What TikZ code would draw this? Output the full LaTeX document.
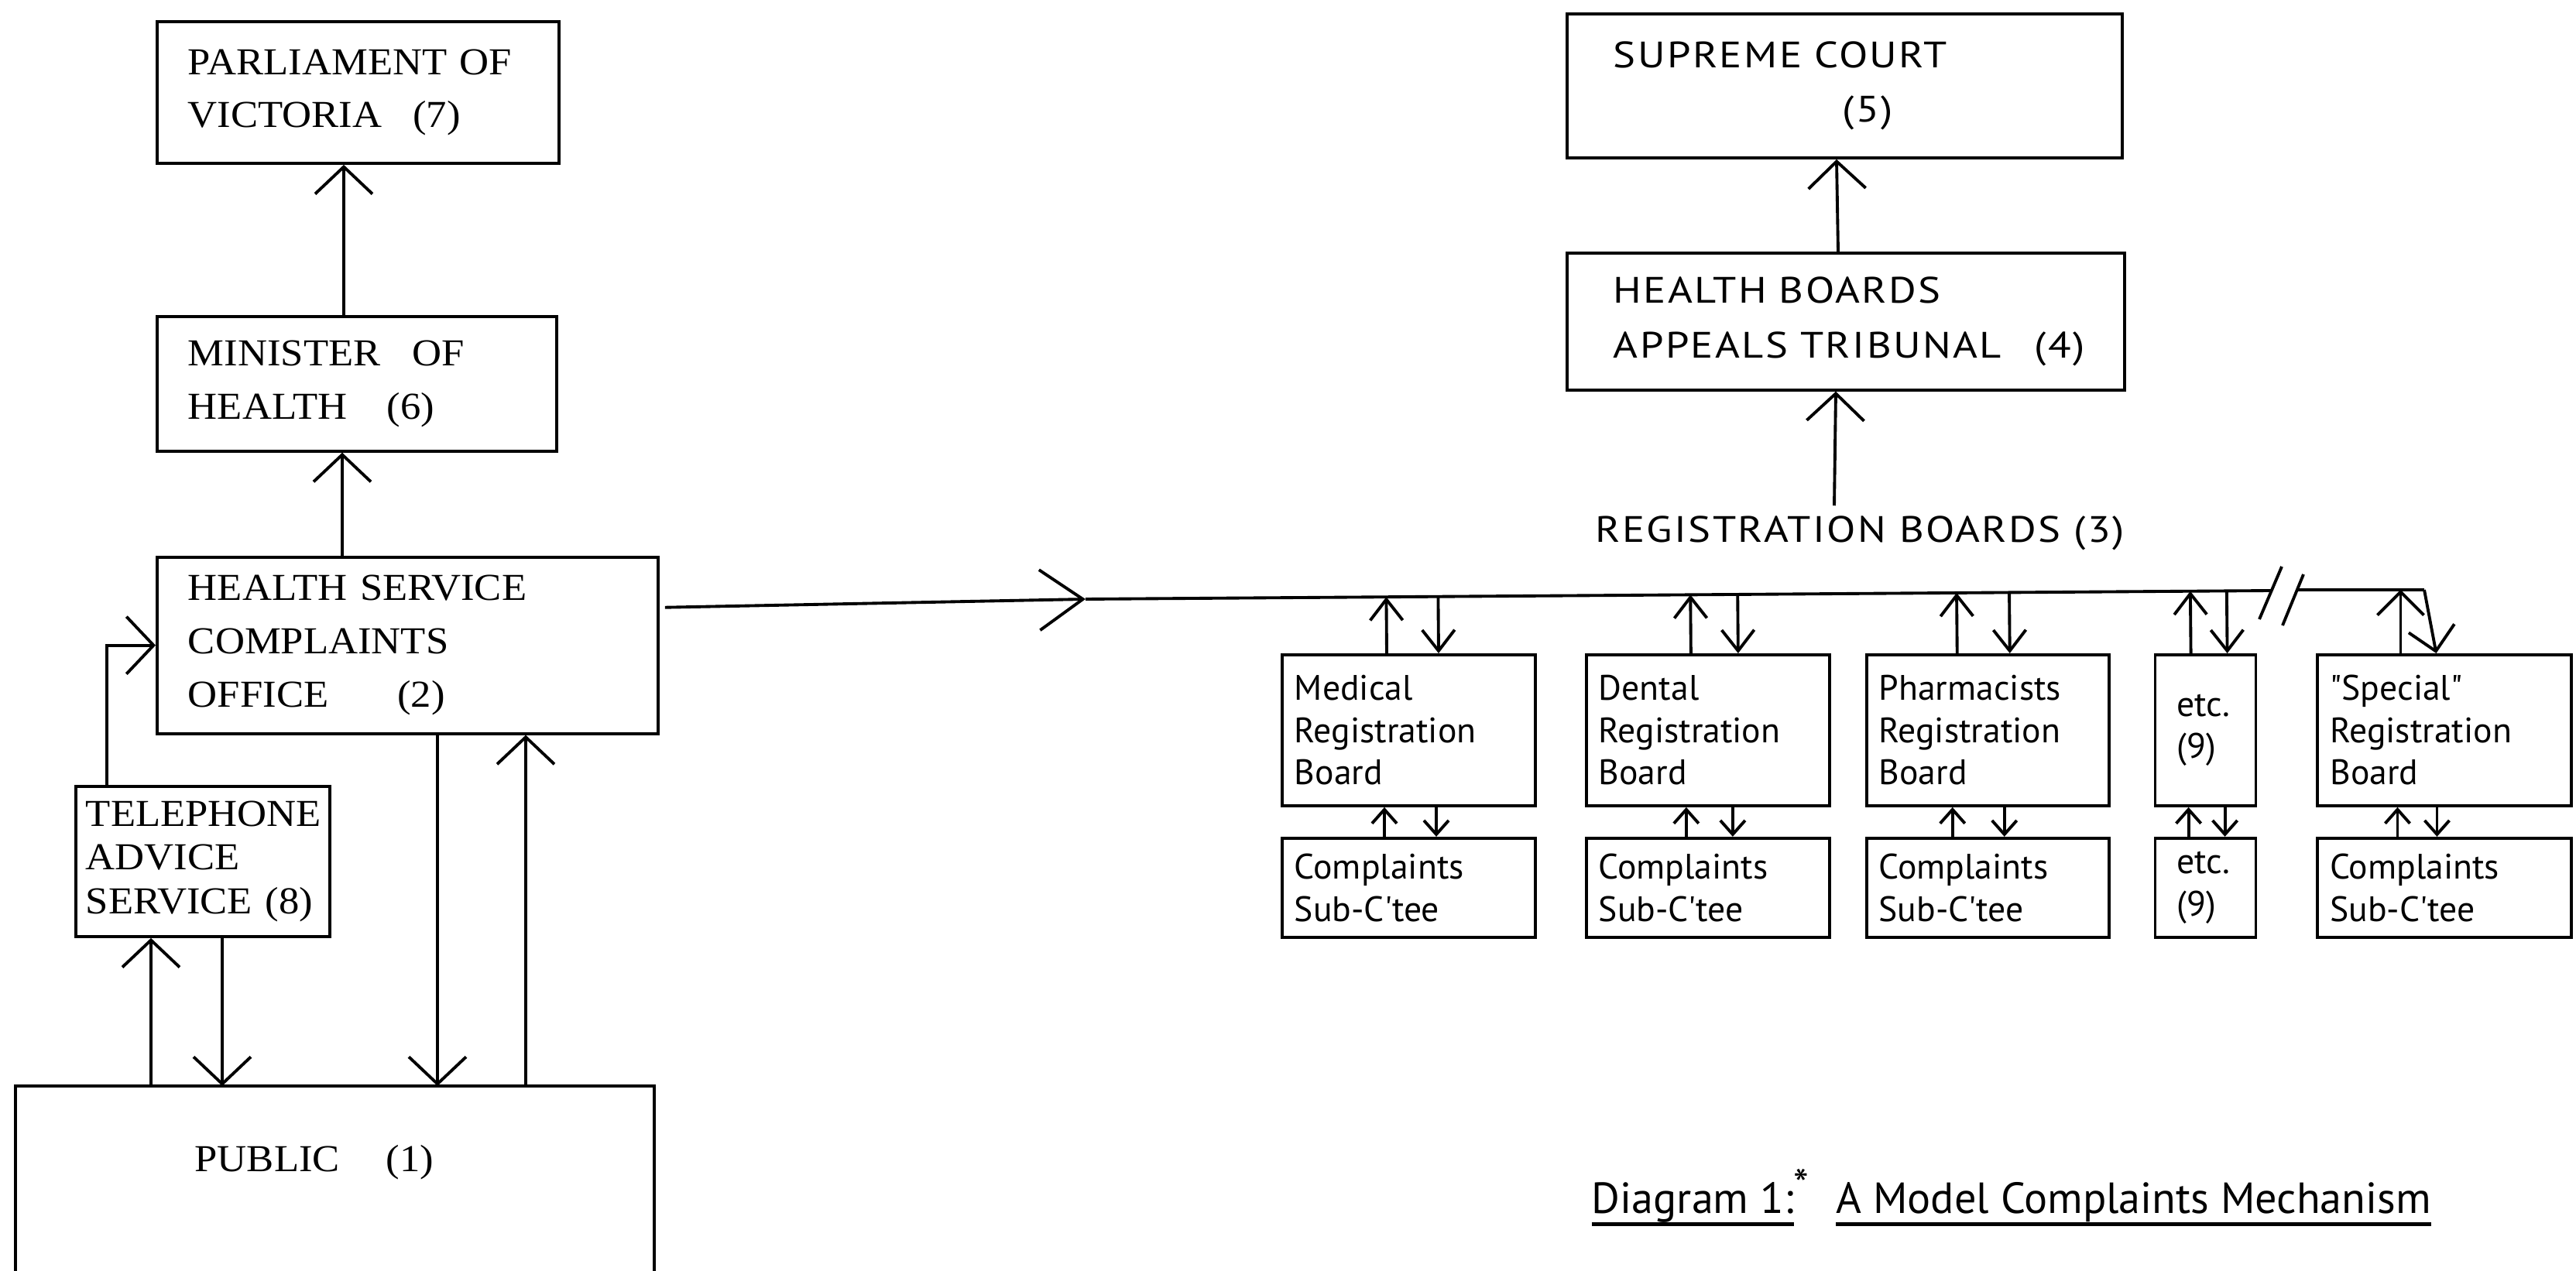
\documentclass[tikz,border=0pt]{standalone}
\usepackage{fontspec}
\setmainfont{Liberation Serif}[FakeStretch=1.07]
\newfontfamily\boardfont{PT Sans}[Ligatures=TeXOff]
\newfontfamily\rcapfont{PT Sans}[FakeStretch=1.15, LetterSpace=5]
\usetikzlibrary{positioning,calc,arrows.meta}

\hyphenpenalty=10000
\exhyphenpenalty=10000

\newcommand\capsfont{\fontsize{14}{19.6}\selectfont}
\newcommand\rcapsfont{\rcapfont\fontsize{13.5}{20}\selectfont}
\newcommand\boardtext{\boardfont\fontsize{13}{15.5}\selectfont}
% thick rule under a piece of text
\newcommand\capline[1]{\setbox0=\hbox{#1}\rlap{\rule[-4.5pt]{\wd0}{1.5pt}}\box0}

\begin{document}
\begin{tikzpicture}[
    line width=1.1pt,
    capbox/.style={draw, anchor=north west, align=left, inner xsep=4mm, font=\capsfont},
    rcapbox/.style={draw, anchor=north west, align=left, inner xsep=6mm, font=\rcapsfont},
    board/.style={draw, anchor=north west, align=left, inner xsep=1.6mm, minimum height=1.95cm, font=\boardtext},
    subbox/.style={board, minimum height=1.28cm},
    bigbarb/.style={-{Straight Barb[length=3.5mm,width=7.4mm]}},
    mainbarb/.style={-{Straight Barb[length=5.6mm,width=7.8mm]}},
    smallbarb/.style={-{Straight Barb[length=2.7mm,width=4.2mm]}},
    widebarb/.style={-{Straight Barb[length=3mm,width=6mm]}},
    tinybarb/.style={-{Straight Barb[length=1.8mm,width=3.2mm]}}
  ]
    \path[use as bounding box, fill=white] (0,0) rectangle (33.27,16.42);

    % left column
    \node[capbox, text width=4.39cm, minimum height=1.83cm] (parl) at (2.01,16.16) {\mbox{PARLIAMENT OF}\\VICTORIA\hspace{0.4cm}(7)};
    \node[capbox, text width=4.36cm, minimum height=1.74cm, below=1.94cm of parl.south west, anchor=north west] (mini) {MINISTER\hspace{0.41cm}OF\\HEALTH\hspace{0.51cm}(6)};
    \node[capbox, text width=5.67cm, minimum height=2.28cm, below=1.33cm of mini.south west, anchor=north west] (hsco) {HEALTH SERVICE\\COMPLAINTS\\OFFICE\hspace{0.89cm}(2)};
    \node[capbox, inner xsep=1.3mm, text width=3.02cm, minimum height=1.94cm, font=\fontsize{14}{16}\selectfont] (tel) at (0.96,6.28) {TELEPHONE\\ADVICE\\\mbox{SERVICE (8)}};
    \node[anchor=north west, inner sep=0pt, minimum width=8.21cm, minimum height=2.39cm] (pub) at (0.20,2.39) {};
    \draw (pub.south west) -- (pub.north west) -- (pub.north east) -- (pub.south east);
    \node[font=\capsfont] (pubtext) at (4.06,1.40) {PUBLIC\hspace{0.6cm}(1)};

    \draw[bigbarb] ($(mini.north west)+(2.43,0)$) -- ($(parl.south west)+(2.43,0)$);
    \draw[bigbarb] ($(hsco.north west)+(2.41,0)$) -- ($(mini.south west)+(2.41,0)$);
    \draw[bigbarb] ($(tel.north west)+(0.42,0)$) |- (hsco.west);
    \draw[bigbarb] ($(pub.north west)+(1.75,0)$) -- ($(tel.south west)+(0.99,0)$);
    \draw[bigbarb] ($(tel.south west)+(1.91,0)$) -- ($(pub.north west)+(2.67,0)$);
    \draw[bigbarb] ($(hsco.south west)+(3.64,0)$) -- ($(pub.north west)+(5.45,0)$);
    \draw[bigbarb] ($(pub.north west)+(6.59,0)$) -- ($(hsco.south west)+(4.78,0)$);

    % appeals
    \node[rcapbox, text width=5.97cm, minimum height=1.86cm] (sup) at (20.22,16.26) {\mbox{SUPREME COURT}\\\hspace*{2.96cm}(5)};
    \node[rcapbox, text width=6.0cm, minimum height=1.77cm, below=1.19cm of sup.south west, anchor=north west] (hbat) {\mbox{HEALTH BOARDS}\\\mbox{APPEALS TRIBUNAL\hspace{0.43cm}(4)}};
    \node[font=\rcapsfont] (regs) at (24.02,9.53) {REGISTRATION BOARDS (3)};
    \draw[bigbarb] ($(hbat.north west)+(3.52,0)$) -- ($(sup.south west)+(3.50,0)$);
    \draw[bigbarb] ($(regs.north)+(-0.33,0)$) -- ($(hbat.south west)+(3.49,0)$);

    % registration boards and their sub-committees
    \node[board, text width=2.95cm] (med) at (16.54,7.98) {Medical\\Registration\\Board};
    \node[board, text width=2.82cm, right=0.62cm of med.north east, anchor=north west] (den) {Dental\\Registration\\Board};
    \node[board, text width=2.81cm, right=0.44cm of den.north east, anchor=north west] (pha) {Pharmacists\\Registration\\Board};
    \node[board, inner xsep=2.8mm, text width=0.74cm, right=0.56cm of pha.north east, anchor=north west] (oth) {etc.\\(9)};
    \node[board, text width=2.96cm, right=0.76cm of oth.north east, anchor=north west] (spc) {"Special"\\Registration\\Board};

    \node[subbox, text width=2.95cm, below=0.38cm of med.south west, anchor=north west] (medsub) {Complaints\\Sub-C'tee};
    \node[subbox, text width=2.82cm, below=0.38cm of den.south west, anchor=north west] (densub) {Complaints\\Sub-C'tee};
    \node[subbox, text width=2.81cm, below=0.38cm of pha.south west, anchor=north west] (phasub) {Complaints\\Sub-C'tee};
    \node[subbox, inner xsep=2.8mm, text width=0.74cm, below=0.38cm of oth.south west, anchor=north west] (othsub) {etc.\\(9)};
    \node[subbox, text width=2.96cm, below=0.38cm of spc.south west, anchor=north west] (spcsub) {Complaints\\Sub-C'tee};

    % the line out to the boards, broken before the last one
    \coordinate (hub) at (14.02,8.68);
    \coordinate (brk1) at (29.34,8.79);
    \coordinate (brk2) at (29.66,8.80);
    \coordinate (busE) at (31.31,8.80);
    \draw[mainbarb] ($(hsco.north east)+(0.07,-0.67)$) -- (hub);
    \draw (hub) -- (brk1);
    \draw (brk2) -- (busE);
    \draw (29.18,8.42) -- (29.47,9.10);
    \draw (29.48,8.34) -- (29.75,9.00);

    \foreach \bd/\u/\d in {med/1.37/2.04, den/1.37/1.98, pha/1.19/1.87, oth/0.48/0.95} {
      \path ([xshift=\u cm]\bd.north west) coordinate (bup) ([xshift=\d cm]\bd.north west) coordinate (bdn);
      \draw[smallbarb] (bup) -- ($(hub)!(bup)!(brk1)$);
      \draw[smallbarb] ($(hub)!(bdn)!(brk1)$) -- (bdn);
    }
    \path ([xshift=1.09cm]spc.north west) coordinate (sup1);
    \draw[widebarb] (sup1) -- ($(brk2)!(sup1)!(busE)$);
    \draw[widebarb] (busE) -- ([xshift=1.55cm]spc.north west);

    \foreach \bd/\u/\d in {med/1.34/2.01, den/1.31/1.91, pha/1.13/1.80, oth/0.45/0.92, spc/1.05/1.56} {
      \draw[tinybarb] ([xshift=\u cm]\bd sub.north west) -- ([xshift=\u cm]\bd.south west);
      \draw[tinybarb] ([xshift=\d cm]\bd.south west) -- ([xshift=\d cm]\bd sub.north west);
    }

    \node[anchor=base west, inner sep=0pt, font=\boardfont\fontsize{16}{19}\selectfont] (caption) at (20.54,0.74) {\capline{Diagram 1:}\raisebox{5pt}{*}\hspace{0.35cm}\capline{A Model Complaints Mechanism}};
\end{tikzpicture}
\end{document}
